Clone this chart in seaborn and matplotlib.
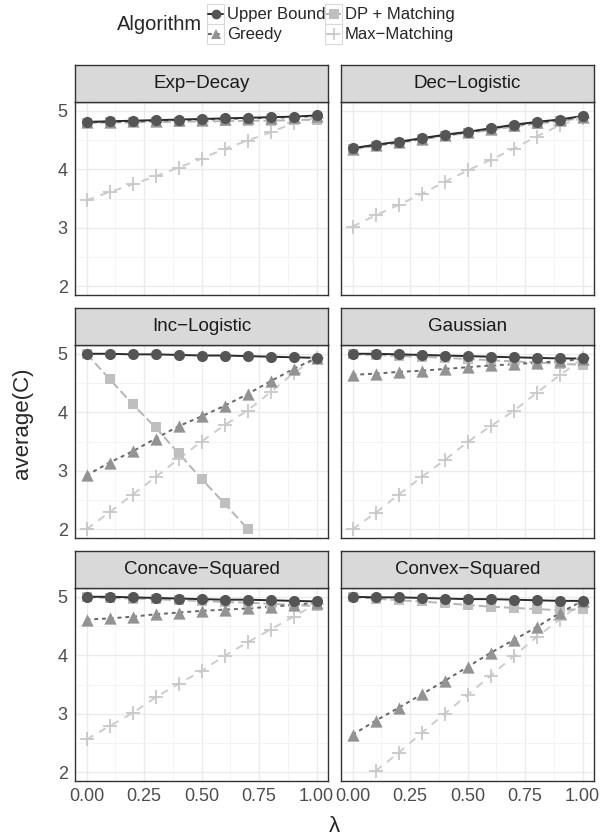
import numpy as np
import pandas as pd
import matplotlib
matplotlib.use('Agg')
import matplotlib.pyplot as plt
from matplotlib.lines import Line2D
from matplotlib.patches import Rectangle
import seaborn as sns

# data
lam = [0.0, 0.1, 0.2, 0.3, 0.4, 0.5, 0.6, 0.7, 0.8, 0.9, 1.0]
panels = ['Exp\u2212Decay', 'Dec\u2212Logistic', 'Inc\u2212Logistic', 'Gaussian',
          'Concave\u2212Squared', 'Convex\u2212Squared']
algos = ['Upper Bound', 'Greedy', 'DP + Matching', 'Max\u2212Matching']
x_ticks = [0.0, 0.25, 0.5, 0.75, 1.0]
x_ticklabels = ['0.00', '0.25', '0.50', '0.75', '1.00']
y_ticks = [2, 3, 4, 5]

exp_upper = [4.81, 4.82, 4.83, 4.84, 4.85, 4.86, 4.87, 4.88, 4.89, 4.90, 4.92]
exp_greedy = [4.80, 4.81, 4.82, 4.83, 4.84, 4.85, 4.86, 4.87, 4.88, 4.89, 4.91]
exp_dp = [4.79, 4.80, 4.80, 4.81, 4.81, 4.82, 4.82, 4.83, 4.83, 4.84, 4.85]
exp_max = [3.47, 3.61, 3.74, 3.88, 4.03, 4.18, 4.35, 4.49, 4.63, 4.79, 4.88]

dec_upper = [4.36, 4.42, 4.47, 4.53, 4.59, 4.64, 4.70, 4.76, 4.81, 4.85, 4.91]
dec_greedy = [4.35, 4.41, 4.46, 4.52, 4.58, 4.63, 4.69, 4.75, 4.80, 4.84, 4.90]
dec_dp = [4.34, 4.40, 4.45, 4.51, 4.57, 4.62, 4.67, 4.73, 4.78, 4.82, 4.88]
dec_max = [3.02, 3.21, 3.39, 3.58, 3.78, 3.98, 4.16, 4.35, 4.56, 4.75, 4.88]

inc_upper = [5.00, 5.00, 4.99, 4.99, 4.98, 4.97, 4.97, 4.96, 4.95, 4.94, 4.93]
inc_greedy = [2.92, 3.14, 3.33, 3.55, 3.76, 3.93, 4.11, 4.31, 4.53, 4.74, 4.93]
inc_dp = [5.00, 4.57, 4.14, 3.74, 3.30, 2.86, 2.44, 2.01, np.nan, np.nan, np.nan]
inc_max = [2.00, 2.29, 2.59, 2.89, 3.20, 3.50, 3.78, 4.03, 4.34, 4.67, 4.93]

gau_upper = [5.00, 5.00, 4.99, 4.98, 4.97, 4.96, 4.95, 4.94, 4.93, 4.92, 4.92]
gau_greedy = [4.64, 4.66, 4.69, 4.71, 4.74, 4.77, 4.80, 4.82, 4.85, 4.87, 4.91]
gau_dp = [4.99, 4.98, 4.96, 4.95, 4.93, 4.91, 4.89, 4.87, 4.85, 4.83, 4.81]
gau_max = [2.00, 2.28, 2.59, 2.89, 3.18, 3.49, 3.76, 4.02, 4.33, 4.63, 4.92]

cav_upper = [5.00, 5.00, 4.99, 4.98, 4.97, 4.96, 4.95, 4.95, 4.94, 4.93, 4.92]
cav_greedy = [4.61, 4.63, 4.66, 4.70, 4.73, 4.76, 4.78, 4.80, 4.83, 4.86, 4.90]
cav_dp = [4.99, 4.98, 4.97, 4.96, 4.94, 4.93, 4.91, 4.90, 4.88, 4.86, 4.84]
cav_max = [2.56, 2.79, 3.01, 3.28, 3.51, 3.73, 3.99, 4.22, 4.44, 4.66, 4.88]

vex_upper = [5.00, 4.99, 4.99, 4.98, 4.97, 4.96, 4.96, 4.95, 4.94, 4.93, 4.93]
vex_greedy = [2.64, 2.88, 3.10, 3.33, 3.56, 3.80, 4.04, 4.26, 4.48, 4.72, 4.93]
vex_dp = [4.99, 4.97, 4.94, 4.92, 4.89, 4.86, 4.83, 4.81, 4.79, 4.77, 4.79]
vex_max = [np.nan, 2.02, 2.33, 2.67, 3.00, 3.32, 3.65, 3.98, 4.31, 4.61, 4.90]

series = {
    panels[0]: [exp_upper, exp_greedy, exp_dp, exp_max],
    panels[1]: [dec_upper, dec_greedy, dec_dp, dec_max],
    panels[2]: [inc_upper, inc_greedy, inc_dp, inc_max],
    panels[3]: [gau_upper, gau_greedy, gau_dp, gau_max],
    panels[4]: [cav_upper, cav_greedy, cav_dp, cav_max],
    panels[5]: [vex_upper, vex_greedy, vex_dp, vex_max],
}

rows = []
for p, vals in series.items():
    for a, ys in zip(algos, vals):
        for x, y in zip(lam, ys):
            rows.append({'panel': p, 'Algorithm': a, 'lam': x, 'avg': y})
df = pd.DataFrame(rows).dropna()

# styling
sns.set_style('white')
plt.rcParams['font.family'] = ['Liberation Sans', 'DejaVu Sans']

line_pal = {'Upper Bound': '#2b2b2b', 'Greedy': '#666666',
            'DP + Matching': '#b5b5b5', 'Max\u2212Matching': '#cccccc'}
pt_pal = {'Upper Bound': '#555555', 'Greedy': '#939393',
          'DP + Matching': '#bfbfbf', 'Max\u2212Matching': '#c8c8c8'}
dashes = {'Upper Bound': '', 'Greedy': (2, 2),
          'DP + Matching': (4.5, 2), 'Max\u2212Matching': (4, 3.5)}
markers = {'Upper Bound': 'o', 'Greedy': '^',
           'DP + Matching': 's', 'Max\u2212Matching': '+'}
sizes = {'Upper Bound': 64, 'Greedy': 78, 'DP + Matching': 58, 'Max\u2212Matching': 90}
draw_order = ['Max\u2212Matching', 'DP + Matching', 'Greedy', 'Upper Bound']

W_PX, H_PX = 615, 840
fig = plt.figure(figsize=(W_PX / 100, H_PX / 100), dpi=100)

col_x = [75, 341]
row_y = [102, 345, 588]
pw, ph, sh = 253, 193, 37

for i, p in enumerate(panels):
    r, c = divmod(i, 2)
    x0, y0 = col_x[c], row_y[r]
    ax = fig.add_axes([x0 / W_PX, 1 - (y0 + ph) / H_PX, pw / W_PX, ph / H_PX])
    sub = df[df['panel'] == p]

    sns.lineplot(data=sub, x='lam', y='avg', hue='Algorithm', style='Algorithm',
                 hue_order=draw_order, style_order=draw_order,
                 palette=line_pal, dashes=dashes, estimator=None,
                 linewidth=1.4, legend=False, ax=ax, zorder=2)
    for a in draw_order:
        s = sub[sub['Algorithm'] == a]
        if markers[a] == '+':
            sns.scatterplot(data=s, x='lam', y='avg', marker='+', color=pt_pal[a],
                            s=sizes[a], linewidth=1.3, legend=False, ax=ax, zorder=3)
        else:
            sns.scatterplot(data=s, x='lam', y='avg', marker=markers[a], color=pt_pal[a],
                            s=sizes[a], linewidth=0, legend=False, ax=ax, zorder=3)

    ax.set_xlim(-0.05, 1.05)
    ax.set_ylim(1.85, 5.15)
    ax.set_xticks(x_ticks)
    ax.set_xticks([0.125, 0.375, 0.625, 0.875], minor=True)
    ax.set_yticks(y_ticks)
    ax.set_yticks([2.5, 3.5, 4.5], minor=True)
    ax.grid(which='major', color='#ebebeb', linewidth=1.0, zorder=0)
    ax.grid(which='minor', color='#f2f2f2', linewidth=0.6, zorder=0)
    ax.set_axisbelow(True)
    for sp in ax.spines.values():
        sp.set_color('#333333')
        sp.set_linewidth(1.0)
    ax.set_xlabel('')
    ax.set_ylabel('')
    ax.tick_params(which='minor', length=0)
    ax.tick_params(which='major', length=3.3, width=0.8, color='#333333',
                   labelcolor='#4d4d4d', labelsize=13, pad=2)
    if r == 2:
        ax.set_xticklabels(x_ticklabels)
    else:
        ax.set_xticklabels([])
        ax.tick_params(axis='x', length=0)
    if c == 0:
        ax.set_yticklabels([str(v) for v in y_ticks])
    else:
        ax.set_yticklabels([])
        ax.tick_params(axis='y', length=0)

    # facet strip
    sax = fig.add_axes([x0 / W_PX, 1 - y0 / H_PX, pw / W_PX, sh / H_PX])
    sax.set_facecolor('#d9d9d9')
    sax.set_xticks([])
    sax.set_yticks([])
    for sp in sax.spines.values():
        sp.set_color('#333333')
        sp.set_linewidth(1.0)
    sax.text(0.5, 0.5, p, ha='center', va='center', fontsize=13.5,
             color='#1a1a1a', transform=sax.transAxes)

# axis titles
fig.text(22 / W_PX, 1 - 423 / H_PX, 'average(C)', rotation=90,
         ha='center', va='center', fontsize=16)
fig.text(334 / W_PX, 1 - 827 / H_PX, '\u03bb', ha='center', va='center', fontsize=16)

# legend at the top
fig.text(117 / W_PX, 1 - 25 / H_PX, 'Algorithm', ha='left', va='center', fontsize=14.5)
key_x = [207, 325]
key_y = [4, 24]
kw, kh = 17, 20
for i, a in enumerate(algos):
    c, r = divmod(i, 2)
    kx, ky = key_x[c], key_y[r]
    fig.add_artist(Rectangle((kx / W_PX, 1 - (ky + kh) / H_PX), kw / W_PX, kh / H_PX,
                             transform=fig.transFigure, facecolor='white',
                             edgecolor='#d9d9d9', linewidth=0.8))
    cy = 1 - (ky + kh / 2) / H_PX
    fig.add_artist(Line2D([(kx + 1) / W_PX, (kx + kw - 1) / W_PX], [cy, cy],
                          transform=fig.transFigure, color=line_pal[a], linewidth=1.4,
                          dashes=dashes[a] if dashes[a] else (None, None)))
    mk = markers[a]
    fig.add_artist(Line2D([(kx + kw / 2) / W_PX], [cy], transform=fig.transFigure,
                          linestyle='none', marker=mk, color=pt_pal[a],
                          markersize=8 if mk == '+' else 7,
                          markeredgewidth=1.2 if mk == '+' else 0))
    fig.text((kx + kw + 3) / W_PX, cy, a, ha='left', va='center', fontsize=12)

fig.savefig('out.png', dpi=100)
